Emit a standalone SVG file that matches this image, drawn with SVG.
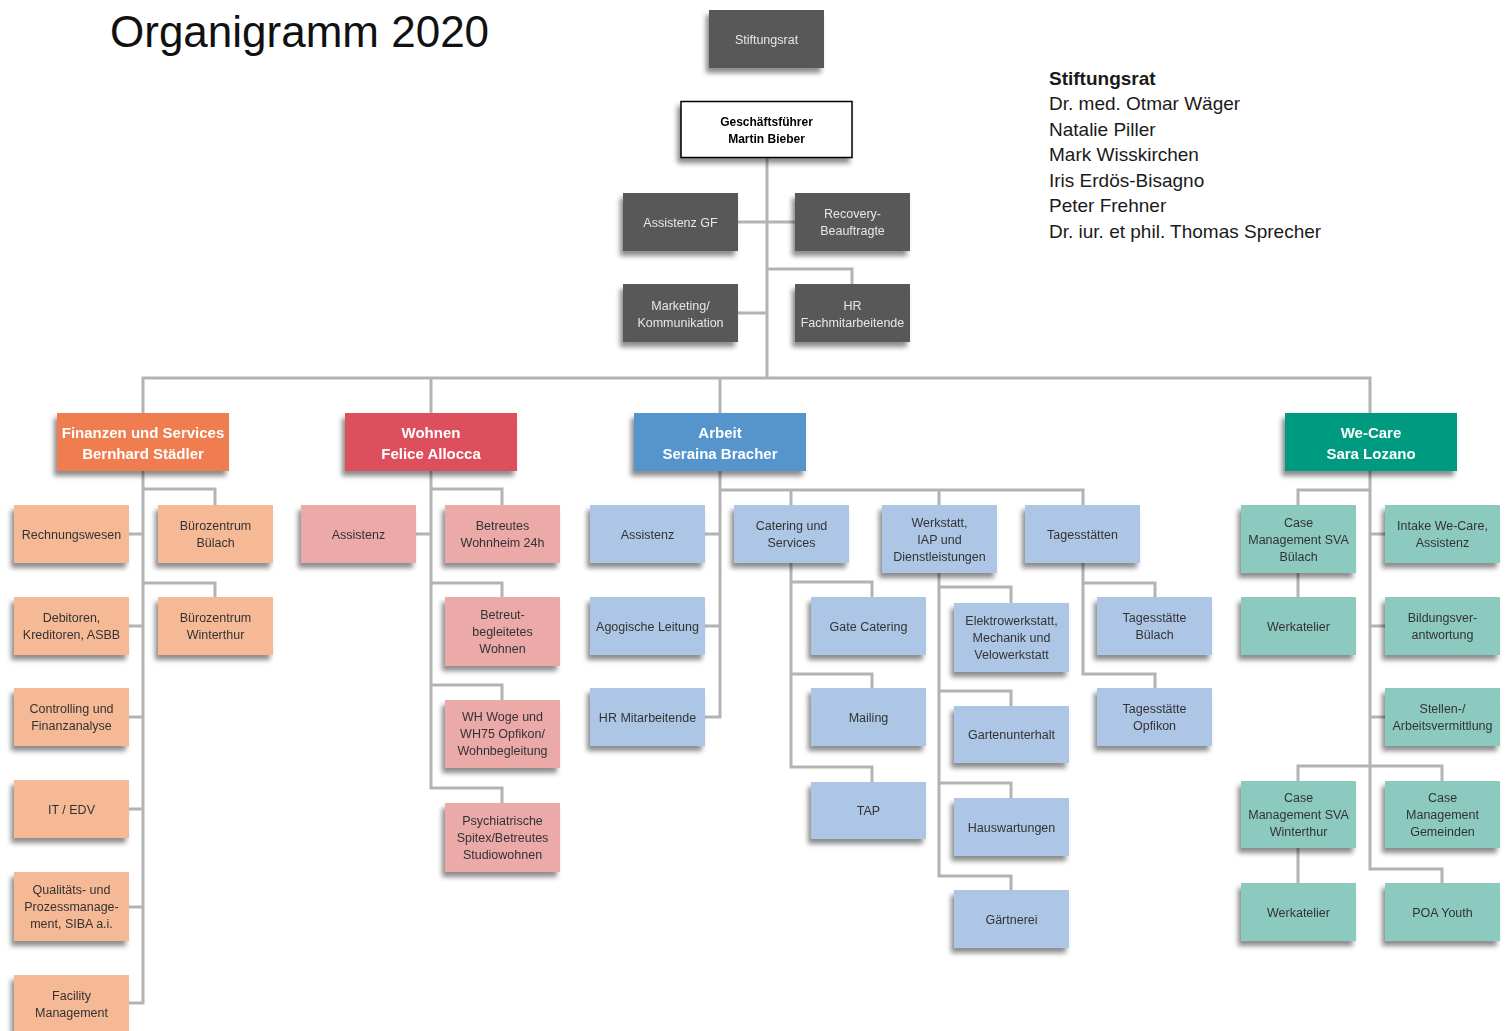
<svg xmlns="http://www.w3.org/2000/svg" width="1510" height="1031" viewBox="0 0 1510 1031">
<style>
text{font-family:"Liberation Sans",Arial,sans-serif;text-anchor:middle}
.t{font-size:12.5px;fill:#333333}
.td{font-size:12.5px;fill:#e6e6e6}
.th{font-size:15px;font-weight:bold;fill:#ffffff}
.tg{font-size:12px;font-weight:bold;fill:#000000}
.dk{fill:#595959}
.fi{fill:#f6b995}
.wo{fill:#eba9a8}
.ar{fill:#adc6e5}
.wc{fill:#8ccabf}
.cn{fill:none;stroke:#b3b3b3;stroke-width:3}
.list{font-size:19px;fill:#1a1a1a;text-anchor:start}
</style>
<defs>
<filter id="sh" x="-20%" y="-20%" width="140%" height="160%">
<feDropShadow dx="-3" dy="5" stdDeviation="2.5" flood-color="#000" flood-opacity="0.45"/>
</filter>
</defs>
<rect width="1510" height="1031" fill="#ffffff"/>
<text x="110" y="47" style="font-size:44px;fill:#111;text-anchor:start">Organigramm 2020</text>
<g id="stiftungsrat-liste">
<text class="list" x="1049" y="85" style="font-weight:bold">Stiftungsrat</text>
<text class="list" x="1049" y="110">Dr. med. Otmar Wäger</text>
<text class="list" x="1049" y="136">Natalie Piller</text>
<text class="list" x="1049" y="161">Mark Wisskirchen</text>
<text class="list" x="1049" y="187">Iris Erdös-Bisagno</text>
<text class="list" x="1049" y="212">Peter Frehner</text>
<text class="list" x="1049" y="238">Dr. iur. et phil. Thomas Sprecher</text>
</g>
<g id="connectors" class="cn">
<path d="M767,158V378"/>
<path d="M738,222H795"/>
<path d="M767,269H852V284"/>
<path d="M738,313H767"/>
<path d="M143,413V378H1370V413"/>
<path d="M431,378V413"/>
<path d="M720,378V413"/>
<path d="M143,471V1003H129"/>
<path d="M143,489H215V505"/>
<path d="M143,583H215V597"/>
<path d="M129,534H143M129,626H143M129,717H143M129,809H143M129,907H143"/>
<path d="M431,471V788H502V803"/>
<path d="M431,489H502V505"/>
<path d="M431,583H502V597"/>
<path d="M431,685H502V700"/>
<path d="M416,534H431"/>
<path d="M720,471V717H705"/>
<path d="M705,534H720M705,626H720"/>
<path d="M720,490H1083V505"/>
<path d="M791,490V505M939,490V505"/>
<path d="M791,563V767H872V782"/>
<path d="M791,582H872V597"/>
<path d="M791,674H872V688"/>
<path d="M939,573V876H1011V890"/>
<path d="M939,587H1011V603"/>
<path d="M939,691H1011V706"/>
<path d="M939,783H1011V798"/>
<path d="M1083,563V674H1155V688"/>
<path d="M1083,583H1155V597"/>
<path d="M1370,471V869H1442V883"/>
<path d="M1370,490H1298V505"/>
<path d="M1298,573V597"/>
<path d="M1370,534H1385M1370,626H1385M1370,717H1385"/>
<path d="M1298,781V766H1442V781"/>
<path d="M1298,848V883"/>
</g>
<g filter="url(#sh)">
<g id="n-stiftungsrat"><rect class="dk" x="709" y="10" width="115" height="58"/><text class="td" x="766.5" y="43.5">Stiftungsrat</text></g>
<g id="n-gf"><rect x="681" y="101.5" width="171" height="56" fill="#fff" stroke="#000" stroke-width="1.5"/><text class="tg" x="766.5" y="126">Geschäftsführer</text><text class="tg" x="766.5" y="143">Martin Bieber</text></g>
<g id="n-assistenz-gf"><rect class="dk" x="623" y="193" width="115" height="58"/><text class="td" x="680.5" y="226.5">Assistenz GF</text></g>
<g id="n-recovery"><rect class="dk" x="795" y="193" width="115" height="58"/><text class="td" x="852.5" y="218">Recovery-</text><text class="td" x="852.5" y="235">Beauftragte</text></g>
<g id="n-marketing"><rect class="dk" x="623" y="284" width="115" height="58"/><text class="td" x="680.5" y="309.5">Marketing/</text><text class="td" x="680.5" y="326.5">Kommunikation</text></g>
<g id="n-hr-fach"><rect class="dk" x="795" y="284" width="115" height="58"/><text class="td" x="852.5" y="309.5">HR</text><text class="td" x="852.5" y="326.5">Fachmitarbeitende</text></g>

<g id="n-finanzen"><rect x="57" y="413" width="172" height="58" fill="#ef7d4f"/><text class="th" x="143" y="437.5">Finanzen und Services</text><text class="th" x="143" y="458.5">Bernhard Städler</text></g>
<g id="n-wohnen"><rect x="345" y="413" width="172" height="58" fill="#dd4f5b"/><text class="th" x="431" y="437.5">Wohnen</text><text class="th" x="431" y="458.5">Felice Allocca</text></g>
<g id="n-arbeit"><rect x="634" y="413" width="172" height="58" fill="#5495cb"/><text class="th" x="720" y="437.5">Arbeit</text><text class="th" x="720" y="458.5">Seraina Bracher</text></g>
<g id="n-wecare"><rect x="1285" y="413" width="172" height="58" fill="#009a80"/><text class="th" x="1371" y="437.5">We-Care</text><text class="th" x="1371" y="458.5">Sara Lozano</text></g>

<g id="n-rechnungswesen"><rect class="fi" x="14" y="505" width="115" height="58"/><text class="t" x="71.5" y="538.5">Rechnungswesen</text></g>
<g id="n-buero-buelach"><rect class="fi" x="158" y="505" width="115" height="58"/><text class="t" x="215.5" y="530">Bürozentrum</text><text class="t" x="215.5" y="547">Bülach</text></g>
<g id="n-debitoren"><rect class="fi" x="14" y="597" width="115" height="58"/><text class="t" x="71.5" y="622">Debitoren,</text><text class="t" x="71.5" y="639">Kreditoren, ASBB</text></g>
<g id="n-buero-winterthur"><rect class="fi" x="158" y="597" width="115" height="58"/><text class="t" x="215.5" y="622">Bürozentrum</text><text class="t" x="215.5" y="639">Winterthur</text></g>
<g id="n-controlling"><rect class="fi" x="14" y="688" width="115" height="58"/><text class="t" x="71.5" y="713">Controlling und</text><text class="t" x="71.5" y="730">Finanzanalyse</text></g>
<g id="n-it"><rect class="fi" x="14" y="780" width="115" height="58"/><text class="t" x="71.5" y="813.5">IT / EDV</text></g>
<g id="n-qualitaet"><rect class="fi" x="14" y="872" width="115" height="69"/><text class="t" x="71.5" y="893.5">Qualitäts- und</text><text class="t" x="71.5" y="910.5">Prozessmanage-</text><text class="t" x="71.5" y="927.5">ment, SIBA a.i.</text></g>
<g id="n-facility"><rect class="fi" x="14" y="975" width="115" height="58"/><text class="t" x="71.5" y="999.5">Facility</text><text class="t" x="71.5" y="1016.5">Management</text></g>

<g id="n-wo-assistenz"><rect class="wo" x="301" y="505" width="115" height="58"/><text class="t" x="358.5" y="538.5">Assistenz</text></g>
<g id="n-wohnheim"><rect class="wo" x="445" y="505" width="115" height="58"/><text class="t" x="502.5" y="530">Betreutes</text><text class="t" x="502.5" y="547">Wohnheim 24h</text></g>
<g id="n-betreut"><rect class="wo" x="445" y="597" width="115" height="69"/><text class="t" x="502.5" y="618.5">Betreut-</text><text class="t" x="502.5" y="635.5">begleitetes</text><text class="t" x="502.5" y="652.5">Wohnen</text></g>
<g id="n-woge"><rect class="wo" x="445" y="700" width="115" height="68"/><text class="t" x="502.5" y="721">WH Woge und</text><text class="t" x="502.5" y="738">WH75 Opfikon/</text><text class="t" x="502.5" y="755">Wohnbegleitung</text></g>
<g id="n-spitex"><rect class="wo" x="445" y="803" width="115" height="69"/><text class="t" x="502.5" y="824.5">Psychiatrische</text><text class="t" x="502.5" y="841.5">Spitex/Betreutes</text><text class="t" x="502.5" y="858.5">Studiowohnen</text></g>

<g id="n-ar-assistenz"><rect class="ar" x="590" y="505" width="115" height="58"/><text class="t" x="647.5" y="538.5">Assistenz</text></g>
<g id="n-agogisch"><rect class="ar" x="590" y="597" width="115" height="58"/><text class="t" x="647.5" y="630.5">Agogische Leitung</text></g>
<g id="n-hr-mitarbeitende"><rect class="ar" x="590" y="688" width="115" height="58"/><text class="t" x="647.5" y="721.5">HR Mitarbeitende</text></g>
<g id="n-catering"><rect class="ar" x="734" y="505" width="115" height="58"/><text class="t" x="791.5" y="530">Catering und</text><text class="t" x="791.5" y="547">Services</text></g>
<g id="n-werkstatt"><rect class="ar" x="882" y="505" width="115" height="68"/><text class="t" x="939.5" y="526.5">Werkstatt,</text><text class="t" x="939.5" y="543.5">IAP und</text><text class="t" x="939.5" y="560.5">Dienstleistungen</text></g>
<g id="n-tagesstaetten"><rect class="ar" x="1025" y="505" width="115" height="58"/><text class="t" x="1082.5" y="538.5">Tagesstätten</text></g>
<g id="n-gate"><rect class="ar" x="811" y="597" width="115" height="58"/><text class="t" x="868.5" y="630.5">Gate Catering</text></g>
<g id="n-mailing"><rect class="ar" x="811" y="688" width="115" height="58"/><text class="t" x="868.5" y="721.5">Mailing</text></g>
<g id="n-tap"><rect class="ar" x="811" y="782" width="115" height="57"/><text class="t" x="868.5" y="815">TAP</text></g>
<g id="n-elektro"><rect class="ar" x="954" y="603" width="115" height="69"/><text class="t" x="1011.5" y="624.5">Elektrowerkstatt,</text><text class="t" x="1011.5" y="641.5">Mechanik und</text><text class="t" x="1011.5" y="658.5">Velowerkstatt</text></g>
<g id="n-garten"><rect class="ar" x="954" y="706" width="115" height="57"/><text class="t" x="1011.5" y="739">Gartenunterhalt</text></g>
<g id="n-haus"><rect class="ar" x="954" y="798" width="115" height="58"/><text class="t" x="1011.5" y="831.5">Hauswartungen</text></g>
<g id="n-gaertnerei"><rect class="ar" x="954" y="890" width="115" height="58"/><text class="t" x="1011.5" y="923.5">Gärtnerei</text></g>
<g id="n-ts-buelach"><rect class="ar" x="1097" y="597" width="115" height="58"/><text class="t" x="1154.5" y="622">Tagesstätte</text><text class="t" x="1154.5" y="639">Bülach</text></g>
<g id="n-ts-opfikon"><rect class="ar" x="1097" y="688" width="115" height="58"/><text class="t" x="1154.5" y="713">Tagesstätte</text><text class="t" x="1154.5" y="730">Opfikon</text></g>

<g id="n-cm-buelach"><rect class="wc" x="1241" y="505" width="115" height="68"/><text class="t" x="1298.5" y="526.5">Case</text><text class="t" x="1298.5" y="543.5">Management SVA</text><text class="t" x="1298.5" y="560.5">Bülach</text></g>
<g id="n-werkatelier1"><rect class="wc" x="1241" y="597" width="115" height="58"/><text class="t" x="1298.5" y="630.5">Werkatelier</text></g>
<g id="n-intake"><rect class="wc" x="1385" y="505" width="115" height="58"/><text class="t" x="1442.5" y="530">Intake We-Care,</text><text class="t" x="1442.5" y="547">Assistenz</text></g>
<g id="n-bildung"><rect class="wc" x="1385" y="597" width="115" height="58"/><text class="t" x="1442.5" y="622">Bildungsver-</text><text class="t" x="1442.5" y="639">antwortung</text></g>
<g id="n-stellen"><rect class="wc" x="1385" y="688" width="115" height="58"/><text class="t" x="1442.5" y="713">Stellen-/</text><text class="t" x="1442.5" y="730">Arbeitsvermittlung</text></g>
<g id="n-cm-winterthur"><rect class="wc" x="1241" y="781" width="115" height="67"/><text class="t" x="1298.5" y="802">Case</text><text class="t" x="1298.5" y="819">Management SVA</text><text class="t" x="1298.5" y="836">Winterthur</text></g>
<g id="n-cm-gemeinden"><rect class="wc" x="1385" y="781" width="115" height="67"/><text class="t" x="1442.5" y="802">Case</text><text class="t" x="1442.5" y="819">Management</text><text class="t" x="1442.5" y="836">Gemeinden</text></g>
<g id="n-werkatelier2"><rect class="wc" x="1241" y="883" width="115" height="58"/><text class="t" x="1298.5" y="916.5">Werkatelier</text></g>
<g id="n-poa"><rect class="wc" x="1385" y="883" width="115" height="58"/><text class="t" x="1442.5" y="916.5">POA Youth</text></g>
</g>
</svg>
